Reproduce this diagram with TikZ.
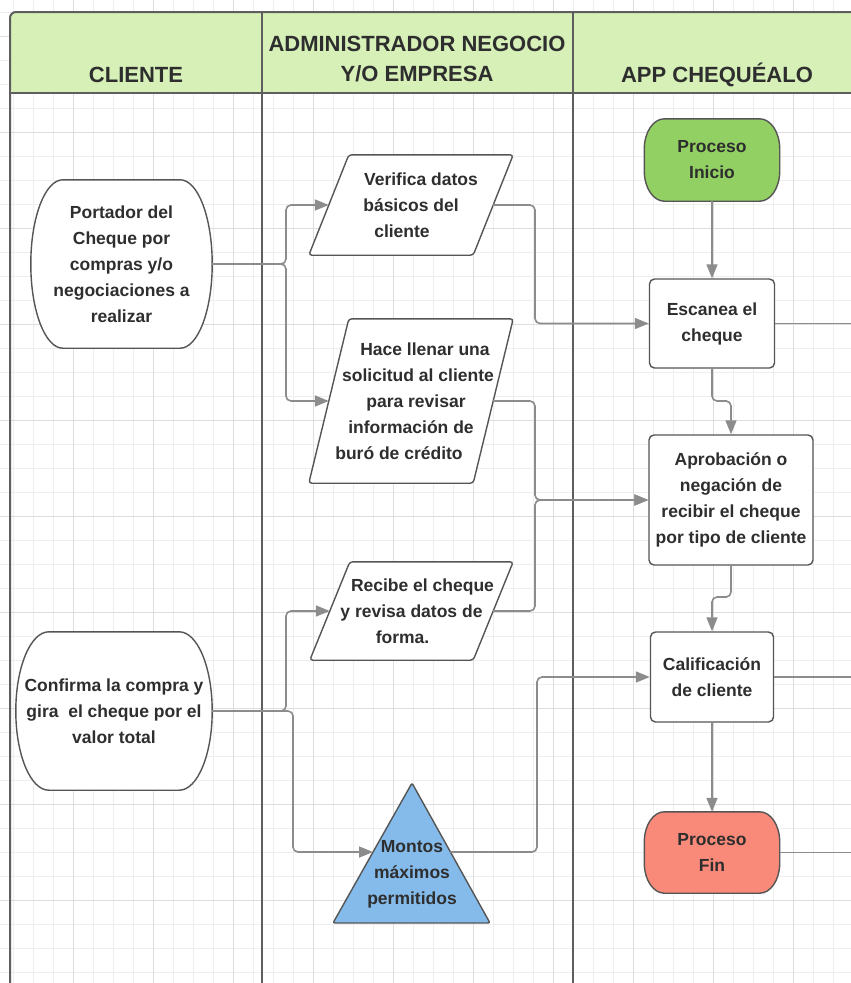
\documentclass[tikz,border=0pt]{standalone}
\usepackage{fontspec}
\setmainfont{Liberation Sans}
\usetikzlibrary{arrows.meta,calc}

\definecolor{ink}{HTML}{2E2E2E}
\definecolor{edge}{HTML}{555555}
\definecolor{lanegray}{HTML}{5E5E5E}
\definecolor{wire}{HTML}{8C8C8C}
\definecolor{gridminor}{HTML}{EEEEEE}
\definecolor{gridmajor}{HTML}{DDDDDD}
\definecolor{hdr}{RGB}{214,240,184}
\definecolor{startgreen}{RGB}{146,208,100}
\definecolor{endred}{RGB}{249,138,122}
\definecolor{limitblue}{RGB}{133,187,235}

\pgfdeclarelayer{gridlayer}
\pgfdeclarelayer{shapelayer}
\pgfsetlayers{gridlayer,shapelayer,main}

% terminal outline with elliptical corners: node, x radius, y radius, fill
\newcommand\drawterm[4]{%
  \begin{pgfonlayer}{shapelayer}
  \draw[shapeline, fill=#4] ([xshift=#2]#1.north west) -- ([xshift=-#2]#1.north east)
    arc[start angle=90, end angle=0, x radius=#2, y radius=#3]
    -- ([yshift=#3]#1.south east)
    arc[start angle=0, end angle=-90, x radius=#2, y radius=#3]
    -- ([xshift=#2]#1.south west)
    arc[start angle=270, end angle=180, x radius=#2, y radius=#3]
    -- ([yshift=-#3]#1.north west)
    arc[start angle=180, end angle=90, x radius=#2, y radius=#3]
    -- cycle;
  \end{pgfonlayer}}

% slanted input/output box: node, slant
\newcommand\drawpara[2]{%
  \begin{pgfonlayer}{shapelayer}
  \draw[shapeline, fill=white, rounded corners=3pt]
    ([xshift=#2]#1.north west) -- (#1.north east) -- ([xshift=-#2]#1.south east)
    -- (#1.south west) -- cycle;
  \end{pgfonlayer}}

\tikzset{
  txt/.style={font=\fontsize{17.5}{26}\selectfont\bfseries, text=ink, align=center, inner sep=0pt},
  hdrtxt/.style={font=\fontsize{22}{30}\selectfont\bfseries, text=ink, align=center, inner sep=0pt},
  shapeline/.style={draw=edge, line width=1.4pt},
  procbox/.style={txt, draw=edge, line width=1.4pt, fill=white, rounded corners=5pt},
  lane/.style={draw=lanegray, line width=2pt},
  conn/.style={draw=wire, line width=1.6pt, rounded corners=5pt},
  arr/.style={conn, -{Triangle[length=14pt,width=11pt]}},
}

\begin{document}
\begin{tikzpicture}[x=1pt, y=-1pt]
\useasboundingbox (0,0) rectangle (851,983);

% background grid
\begin{pgfonlayer}{gridlayer}
  \fill[white] (0,0) rectangle (851,983);
  \foreach \x in {13,33,...,853} \draw[gridminor, line width=0.8pt] (\x,0) -- (\x,983);
  \foreach \y in {12,36,...,984} \draw[gridminor, line width=0.8pt] (0,\y) -- (851,\y);
  \foreach \x in {73,153,...,873} \draw[gridmajor, line width=1pt] (\x,0) -- (\x,983);
  \foreach \y in {36,132,...,996} \draw[gridmajor, line width=1pt] (0,\y) -- (851,\y);
\end{pgfonlayer}

% swimlane header and lane borders
\begin{pgfonlayer}{shapelayer}
  \fill[hdr, rounded corners=6pt] (10,93) -- (10,12) -- (860,12) -- (860,93) -- cycle;
  \draw[lane, rounded corners=6pt] (10,990) -- (10,12) -- (860,12);
  \draw[lane, line width=2.4pt] (10,93) -- (860,93);
  \draw[lane] (262,12) -- (262,990);
  \draw[lane] (573,12) -- (573,990);
\end{pgfonlayer}

\node[hdrtxt, anchor=base] (h1) at (136,82.5) {CLIENTE};
\node[hdrtxt] (h2) at (417,59) {ADMINISTRADOR NEGOCIO\\Y/O EMPRESA};
\node[hdrtxt, anchor=base] (h3) at (717,82.5) {APP CHEQUÉALO};

% client lane
\node[txt, minimum width=181pt, minimum height=168pt] (cl1) at (121.5,264)
  {Portador del\\Cheque por\\compras y/o\\negociaciones a\\realizar};
\drawterm{cl1}{32pt}{84pt}{white}
\node[txt, minimum width=196pt, minimum height=158pt] (cl2) at (114,711)
  {Confirma la compra y\\gira\ \ el cheque por el\\valor total};
\drawterm{cl2}{33pt}{79pt}{white}

% business lane
\node[txt, minimum width=204pt, minimum height=100pt] (ver) at (411,205)
  {\hspace*{20pt}Verifica datos\\básicos del\\cliente\hspace*{18pt}};
\drawpara{ver}{40pt}
\node[txt, minimum width=204pt, minimum height=164pt] (hac) at (411,401)
  {\hspace*{28pt}Hace llenar una\\\hspace*{14pt}solicitud al cliente\\\hspace*{10pt}para revisar\\información de\hspace*{8pt}\\buró de crédito\hspace*{24pt}};
\drawpara{hac}{40pt}
\node[txt, minimum width=203pt, minimum height=98pt] (rec) at (411.5,611)
  {\hspace*{22pt}Recibe el cheque\\y revisa datos de\\forma.\hspace*{18pt}};
\drawpara{rec}{40pt}

\coordinate (mon-a) at (412,783);
\coordinate (mon-l) at (333,923);
\coordinate (mon-r) at (490,923);
\begin{pgfonlayer}{shapelayer}
  \draw[shapeline, fill=limitblue, rounded corners=2pt] (mon-a) -- (mon-r) -- (mon-l) -- cycle;
\end{pgfonlayer}
\node[txt] (mon) at (412,874) {Montos\\máximos\\permitidos};

% app lane
\node[txt, minimum width=135pt, minimum height=82pt] (ini) at (712,160) {Proceso\\Inicio};
\drawterm{ini}{20pt}{30pt}{startgreen}
\node[procbox, minimum width=125pt, minimum height=89pt] (esc) at (712,323.5) {Escanea el\\cheque};
\node[procbox, minimum width=164pt, minimum height=130pt] (apr) at (731,500)
  {Aprobación o\\negación de\\recibir el cheque\\por tipo de cliente};
\node[procbox, minimum width=123pt, minimum height=90pt] (cal) at (712,677) {Calificación\\de cliente};
\node[txt, minimum width=135pt, minimum height=81pt] (fin) at (712,852.5) {Proceso\\Fin};
\drawterm{fin}{20pt}{30pt}{endred}

% attachment points on slanted and triangular outlines
\coordinate (ver-in) at ([xshift=20pt]ver.west);
\coordinate (ver-out) at ([xshift=-20pt]ver.east);
\coordinate (hac-in) at ([xshift=20pt]hac.west);
\coordinate (hac-out) at ([xshift=-20pt]hac.east);
\coordinate (rec-in) at ([xshift=20pt]rec.west);
\coordinate (rec-out) at ([xshift=-20pt]rec.east);
\coordinate (mon-in) at ($(mon-a)!0.493!(mon-l)$);
\coordinate (mon-out) at ($(mon-a)!0.493!(mon-r)$);

% routing points
\coordinate (j1) at (286,264);
\coordinate (j3) at (286,711);
\coordinate (j4) at (293,711);
\coordinate (busA) at (535,264);
\coordinate (busB1) at (535,450);
\coordinate (busB2) at (535,550);
\coordinate (busC) at (537,760);
\coordinate (jogA) at (722,401);
\coordinate (jogB) at (722,597);
\coordinate (exA) at (851,323.5);
\coordinate (exB) at (851,677);
\coordinate (exC) at (851,852.5);

% connectors
\draw[arr] (cl1.east) -- (j1) |- (ver-in);
\draw[arr] (cl1.east) -- (j1) |- (hac-in);
\draw[arr] (cl2.east) -- (j3) |- (rec-in);
\draw[arr] (cl2.east) -- (j4) |- (mon-in);
\draw[arr] (ver-out) -| (busA) |- (esc.west);
\draw[arr] (hac-out) -| (busB1) |- (apr.west);
\draw[arr] (rec-out) -| (busB2) |- (apr.west);
\draw[arr] (mon-out) -| (busC) |- (cal.west);
\draw[arr] (ini.south) -- (esc.north);
\draw[arr] (esc.south) |- (jogA) -| (apr.north);
\draw[arr] (apr.south) |- (jogB) -| (cal.north);
\draw[arr] (cal.south) -- (fin.north);
\draw[conn] (esc.east) -- (exA);
\draw[conn] (cal.east) -- (exB);
\draw[conn] (fin.east) -- (exC);
\end{tikzpicture}
\end{document}
